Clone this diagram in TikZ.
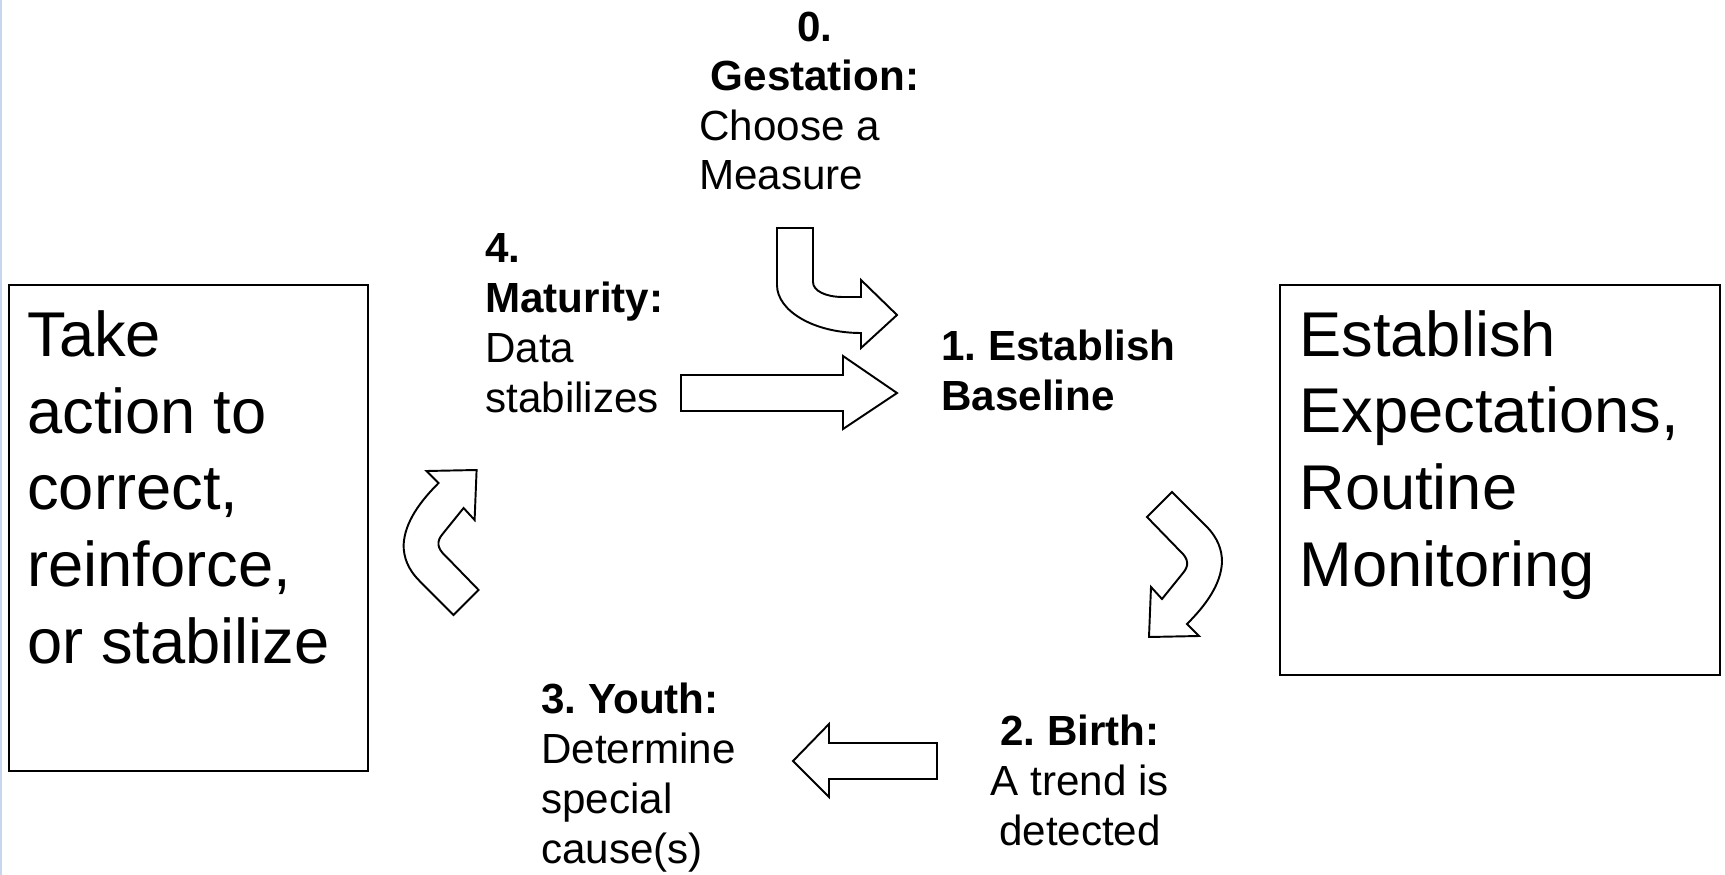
\documentclass[tikz,border=0pt]{standalone}
\usepackage{fontspec}
\setmainfont{Liberation Sans}
\usepackage{xcolor}
\definecolor{edgeblue}{RGB}{200,214,238}
\usetikzlibrary{positioning}
\frenchspacing

\begin{document}
\begin{tikzpicture}[x=0.02cm,y=-0.02cm,
  stagebox/.style={draw,line width=1.1pt},
  bigtext/.style={font=\fontsize{36}{43.6}\selectfont,align=left,anchor=base west,inner sep=0pt},
  lbl/.style={font=\fontsize{24}{28.4}\selectfont,align=left,anchor=base west,inner sep=0pt},
  lblc/.style={lbl,align=center,anchor=base},
  blockarr/.style={draw,line width=1.1pt,fill=white,line join=miter}
]
  \useasboundingbox (0,0) rectangle (1725,875);
  \fill[edgeblue] (0,0) rectangle (2,875);

  % Side boxes (text placed by its last baseline)
  \draw[stagebox] (9,285) rectangle (368,771);
  \node[bigtext] (action) at (27,663) {Take\\action to\\correct,\\reinforce,\\or stabilize};
  \draw[stagebox] (1280,285) rectangle (1720,675);
  \node[bigtext] (expect) at (1299,586) {Establish\\Expectations,\\Routine\\Monitoring};

  % Stage labels
  \node[lblc] (gesthead) at (815,91) {\bfseries 0.\\\bfseries Gestation:};
  \node[lbl] (gesttext) at (699,190) {Choose a\\Measure};
  \node[lbl] (base) at (941,410) {\bfseries 1. Establish\\\bfseries Baseline};
  \node[lblc] (birth) at (1080,845) {\bfseries 2. Birth:\\A trend is\\detected};
  \node[lbl] (youth) at (541,863) {\bfseries 3. Youth:\\Determine\\special\\cause(s)};
  \node[lbl] (mature) at (485,412) {\bfseries 4.\\\bfseries Maturity:\\Data\\stabilizes};

  % Block arrows
  \draw[blockarr] (777,228) -- (813,228) -- (813,282)
    .. controls (813,291) and (826,297) .. (843,297) -- (861,297) -- (861,280)
    -- (897,315) -- (861,348) -- (861,333)
    .. controls (814,333) and (777,311) .. (777,285) -- cycle;
  \draw[blockarr] (681,375) -- (843,375) -- (843,356) -- (897,393)
    -- (843,429) -- (843,411) -- (681,411) -- cycle;
  \draw[blockarr] (1172,492) -- (1206,526)
    .. controls (1218,538) and (1222,550) .. (1222,562)
    .. controls (1221,585) and (1205,606) .. (1187,624)
    -- (1199,636) -- (1149,637) -- (1151,587) -- (1162,599) -- (1183,573)
    .. controls (1189,566) and (1189,559) .. (1180,551) -- (1147,517) -- cycle;
  \draw[blockarr] (937,743) -- (829,743) -- (829,724) -- (793,761)
    -- (829,797) -- (829,779) -- (937,779) -- cycle;
  \begin{scope}[rotate around={180:(812.8,553.5)}]
    \draw[blockarr] (1172,492) -- (1206,526)
      .. controls (1218,538) and (1222,550) .. (1222,562)
      .. controls (1221,585) and (1205,606) .. (1187,624)
      -- (1199,636) -- (1149,637) -- (1151,587) -- (1162,599) -- (1183,573)
      .. controls (1189,566) and (1189,559) .. (1180,551) -- (1147,517) -- cycle;
  \end{scope}
\end{tikzpicture}
\end{document}
